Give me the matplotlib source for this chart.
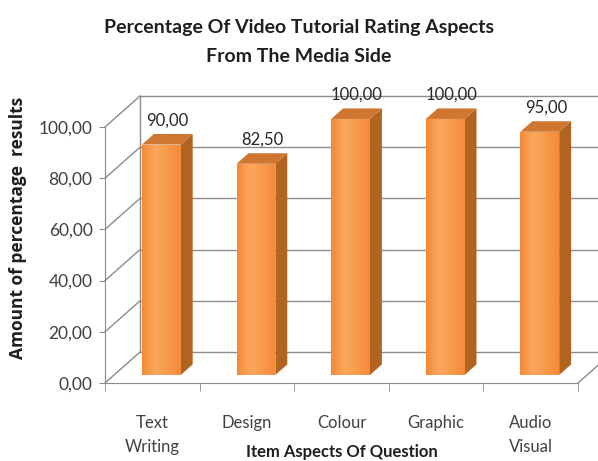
import numpy as np
import matplotlib
matplotlib.use("Agg")
import matplotlib.pyplot as plt
from matplotlib.patches import Polygon
from matplotlib.colors import LinearSegmentedColormap
from matplotlib.ticker import FuncFormatter

categories = ["Text\nWriting", "Design", "Colour", "Graphic", "Audio\nVisual"]
values = [90.00, 82.50, 100.00, 100.00, 95.00]
y_ticks = [0, 20, 40, 60, 80, 100]

title = "Percentage Of Video Tutorial Rating Aspects\nFrom The Media Side"
x_title = "Item Aspects Of Question"
y_title = "Amount of percentage  results"

bold_font = ["Lato", "DejaVu Sans"]
plain = ["Lato", "DejaVu Sans"]

front_cmap = LinearSegmentedColormap.from_list(
    "front", ["#F38A37", "#FBA75E", "#F99A4B", "#F38B3B"])
side_col = "#B2631F"
top_col = "#CF7630"
line_col = "#8C8C8C"
text_col = "#404040"

# depth of the fake 3d box, in data units (x: categories, y: values)
ddx = 0.37
ddy = 12.1
f0, f1 = 0.26, 0.60   # bar depth range as fraction of the box depth
half_w = 0.205

fig = plt.figure(figsize=(5.98, 4.61), dpi=100)
ax = fig.add_axes([105 / 598, 78 / 461, 473 / 598, 256 / 461])

# walls and floor
x_left = -0.5
x_right = len(values) - 0.5
for v in y_ticks:
    ax.plot([x_left, x_left + ddx], [v, v + ddy], color=line_col, lw=1, clip_on=False, zorder=1)
    ax.plot([x_left + ddx, x_right + ddx], [v + ddy, v + ddy], color=line_col, lw=1,
            clip_on=False, zorder=1)
ax.plot([x_left + ddx, x_left + ddx], [ddy, 100 + ddy], color=line_col, lw=1, clip_on=False, zorder=1)
ax.plot([x_right, x_right + ddx], [0, ddy], color=line_col, lw=1, clip_on=False, zorder=1)

# bars
bx = (f1 - f0) * ddx
by = (f1 - f0) * ddy
grad = np.linspace(0, 1, 64).reshape(1, -1)
for i, v in enumerate(values):
    x0 = i - half_w + f0 * ddx
    x1 = i + half_w + f0 * ddx
    y0 = f0 * ddy
    y1 = v + f0 * ddy
    side = Polygon([(x1, y0), (x1 + bx, y0 + by), (x1 + bx, y1 + by), (x1, y1)],
                   closed=True, fc=side_col, ec="none", clip_on=False, zorder=3)
    top = Polygon([(x0, y1), (x1, y1), (x1 + bx, y1 + by), (x0 + bx, y1 + by)],
                  closed=True, fc=top_col, ec="none", clip_on=False, zorder=3)
    front = Polygon([(x0, y0), (x1, y0), (x1, y1), (x0, y1)],
                    closed=True, fc="none", ec="none", clip_on=False, zorder=4)
    ax.add_patch(side)
    ax.add_patch(top)
    ax.add_patch(front)
    im = ax.imshow(grad, cmap=front_cmap, extent=[x0, x1, y0, y1], aspect="auto",
                   interpolation="bilinear", zorder=4)
    im.set_clip_path(front)
    im.set_clip_box(fig.bbox)
    ax.annotate(f"{v:.2f}".replace(".", ","), (i + f0 * ddx + bx / 2, v + f1 * ddy),
                xytext=(0, 4), textcoords="offset points", ha="center", va="bottom",
                fontsize=12, family=plain, color="#262626", zorder=5,
                annotation_clip=False)

ax.set_xlim(-0.5, len(values) - 0.5)
ax.set_ylim(0, 100)

# axes styling
for s in ["top", "right"]:
    ax.spines[s].set_visible(False)
for s in ["left", "bottom"]:
    ax.spines[s].set_color(line_col)
    ax.spines[s].set_zorder(2)

ax.set_yticks(y_ticks)
ax.yaxis.set_major_formatter(FuncFormatter(lambda v, p: f"{v:.2f}".replace(".", ",")))
ax.tick_params(axis="y", length=4, color=line_col, labelsize=12.5, labelcolor=text_col, pad=5)
for lab in ax.get_yticklabels():
    lab.set_family(plain)

ax.set_xticks(np.arange(len(values)))
ax.set_xticklabels(categories, linespacing=1.6, va="top")
ax.set_xticks(np.arange(len(values) + 1) - 0.5, minor=True)
ax.tick_params(axis="x", which="major", length=0, labelsize=12, labelcolor=text_col, pad=23)
ax.tick_params(axis="x", which="minor", length=6, color=line_col)
for lab in ax.get_xticklabels():
    lab.set_family(plain)

ax.set_xlabel(x_title, fontsize=12, fontweight="bold", family=bold_font, color="#1f1f1f")
ax.xaxis.set_label_coords(0.5, -0.27)
ax.xaxis.label.set_va("center")
ax.set_ylabel(y_title, fontsize=12.5, fontweight="bold", family=["Open Sans", "DejaVu Sans"],
              color="#1f1f1f")
ax.yaxis.set_label_coords(-78 / 473, 0.605)

fig.text(0.5, 1 - 42 / 461, title, ha="center", va="center", fontsize=14, fontweight="bold",
         family=bold_font, color="#1f1f1f", linespacing=1.8)

fig.savefig("out.png", dpi=100)
